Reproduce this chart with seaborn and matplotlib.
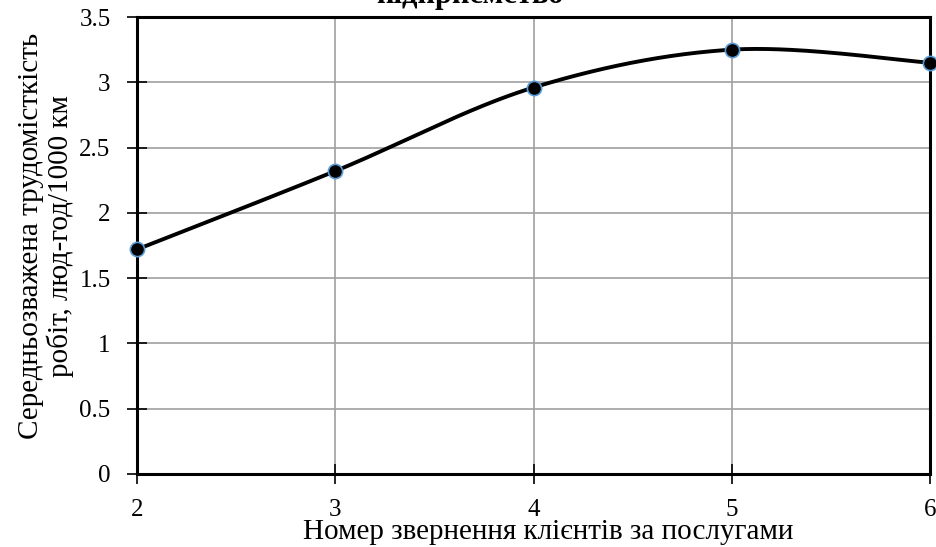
import numpy as np
import pandas as pd
import matplotlib
matplotlib.use("Agg")
import matplotlib.pyplot as plt
import seaborn as sns

# Service visit number vs weighted average labour intensity
visits = [2, 3, 4, 5, 6]
labour = [1.72, 2.32, 2.96, 3.25, 3.15]

title_text = "підприємство"
x_label = "Номер звернення клієнтів за послугами"
y_label = "Середньозважена трудомісткість\nробіт, люд-год/1000 км"

sns.set_theme(style="whitegrid")
plt.rcParams["font.family"] = ["Liberation Serif", "DejaVu Serif"]


def smooth_curve(xs, ys, n=60):
    """Cubic Bezier smoothing through the points (Catmull-Rom style)."""
    xs = np.asarray(xs, float)
    ys = np.asarray(ys, float)
    px = np.concatenate([[xs[0]], xs, [xs[-1]]])
    py = np.concatenate([[ys[0]], ys, [ys[-1]]])
    out_x, out_y = [], []
    t = np.linspace(0, 1, n)
    for i in range(1, len(px) - 2):
        p0 = np.array([px[i], py[i]])
        p3 = np.array([px[i + 1], py[i + 1]])
        p1 = p0 + (np.array([px[i + 1], py[i + 1]]) - np.array([px[i - 1], py[i - 1]])) / 6
        p2 = p3 - (np.array([px[i + 2], py[i + 2]]) - np.array([px[i], py[i]])) / 6
        b = ((1 - t) ** 3)[:, None] * p0 + (3 * (1 - t) ** 2 * t)[:, None] * p1 \
            + (3 * (1 - t) * t ** 2)[:, None] * p2 + (t ** 3)[:, None] * p3
        out_x.extend(b[:, 0])
        out_y.extend(b[:, 1])
    return np.array(out_x), np.array(out_y)


df = pd.DataFrame({"visit": visits, "labour": labour})
cx, cy = smooth_curve(visits, labour)
curve = pd.DataFrame({"visit": cx, "labour": cy})

fig = plt.figure(figsize=(9.37, 5.47), dpi=100)
ax = fig.add_axes([137 / 937, 1 - 474 / 547, (930 - 137) / 937, (474 - 17) / 547])

sns.lineplot(data=curve, x="visit", y="labour", ax=ax, color="black",
             linewidth=2.8, sort=False, zorder=3)
sns.scatterplot(data=df, x="visit", y="labour", ax=ax, color="black",
                edgecolor="#5b9bd5", linewidth=1.2, s=105, zorder=4, clip_on=False)

ax.set_xlim(2, 6)
ax.set_ylim(0, 3.5)
ax.set_xticks(visits)
ax.set_yticks(np.arange(0, 3.51, 0.5))
ax.set_yticklabels(["0", "0.5", "1", "1.5", "2", "2.5", "3", "3.5"])

ax.grid(True, color="#a0a0a0", linewidth=1.2)
for s in ax.spines.values():
    s.set_color("black")
    s.set_linewidth(2.2)
    s.set_visible(True)

ax.tick_params(axis="both", direction="inout", length=14, width=1.2,
               colors="black", labelsize=18, labelcolor="black",
               left=True, bottom=True)
ax.tick_params(axis="x", pad=11)
ax.tick_params(axis="y", pad=12)

ax.set_xlabel(x_label, fontsize=21, color="black")
ax.xaxis.set_label_coords(0.518, -0.098)
ax.set_ylabel(y_label, fontsize=21, color="black", linespacing=1.15)
ax.yaxis.set_label_coords(-0.079, 0.52)

fig.text(0.502, 1 - 3 / 547, title_text, fontsize=22, fontweight="bold",
         ha="center", va="baseline", color="black")

fig.savefig("out.png", dpi=100, facecolor="white")
